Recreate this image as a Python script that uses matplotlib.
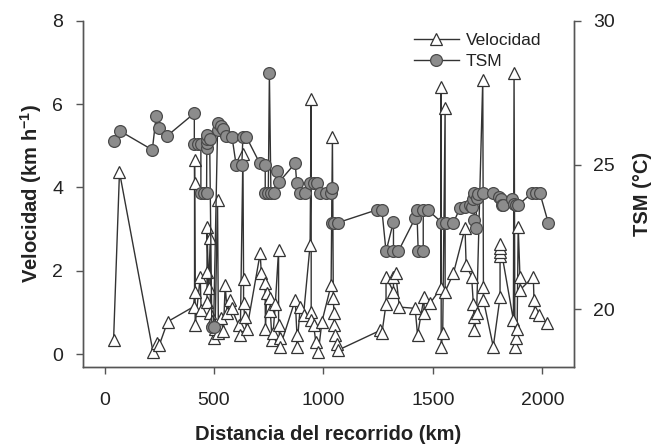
import matplotlib
matplotlib.use("Agg")
import matplotlib.pyplot as plt

plt.rcParams['font.family'] = ['Liberation Sans', 'DejaVu Sans']
plt.rcParams['mathtext.fontset'] = 'custom'
plt.rcParams['mathtext.rm'] = 'Liberation Sans'
plt.rcParams['mathtext.bf'] = 'Liberation Sans:bold'

# Velocidad (km/h) a lo largo del recorrido (km)
vel_km = [41, 68, 221, 239, 250, 288, 407, 411, 411, 411, 414, 437, 441, 468, 468, 468,
          475, 483, 483, 490, 498, 505, 516, 520, 530, 543, 551, 560, 574, 580, 612, 620,
          632, 635, 635, 640, 650, 711, 716, 733, 735, 741, 757, 757, 765, 770, 780, 795,
          795, 800, 802, 871, 879, 879, 894, 909, 939, 944, 944, 944, 955, 965, 977, 993,
          1035, 1041, 1045, 1048, 1050, 1055, 1060, 1068, 1259, 1267, 1286, 1286, 1320, 1320,
          1330, 1347, 1419, 1430, 1460, 1460, 1487, 1536, 1538, 1538, 1545, 1556, 1556, 1594,
          1647, 1652, 1677, 1685, 1688, 1690, 1700, 1728, 1731, 1731, 1776, 1807, 1807, 1807,
          1807, 1807, 1868, 1871, 1875, 1880, 1885, 1890, 1898, 1898, 1959, 1962, 1965, 1987,
          2020]
velocidad = [0.34, 4.37, 0.06, 0.26, 0.22, 0.78, 1.14, 1.5, 4.1, 4.67, 0.7, 1.86, 1.06, 1.26, 1.98, 3.06,
             1.58, 2.78, 1.0, 0.8, 0.38, 0.6, 3.7, 0.5, 0.86, 0.55, 1.66, 1.0, 1.3, 1.1, 0.7, 0.46,
             4.8, 1.8, 1.22, 0.9, 0.6, 2.42, 1.94, 1.7, 0.6, 1.46, 1.34, 1.04, 0.35, 0.5, 1.2, 2.5,
             0.7, 0.4, 0.18, 1.3, 0.46, 0.18, 1.14, 0.94, 2.62, 6.11, 1.02, 0.82, 0.7, 0.3, 0.06, 0.78,
             1.66, 5.22, 1.34, 1.0, 0.7, 0.45, 0.25, 0.1, 0.57, 0.5, 1.2, 1.86, 1.5, 1.86,
             1.95, 1.13, 1.1, 0.46, 1.38, 0.98, 1.22, 1.58, 6.4, 0.18, 0.5, 5.9, 1.5, 1.94,
             3.02, 2.14, 1.86, 1.2, 0.9, 0.58, 1.0, 6.58, 1.6, 1.3, 0.18, 1.37, 2.35, 2.45,
             2.55, 2.65, 0.82, 6.74, 0.18, 0.4, 0.6, 3.06, 1.86, 1.54, 1.86, 1.3, 1.01, 0.94,
             0.74]

# Temperatura superficial del mar (°C)
tsm_km = [42, 69, 218, 236, 247, 285, 410, 410, 425, 440, 440, 455, 466, 467, 467, 467,
          467, 480, 490, 498, 516, 520, 530, 540, 555, 582, 601, 627, 632, 647, 708, 734,
          734, 748, 753, 760, 775, 787, 799, 871, 878, 893, 916, 939, 955, 970, 985, 1010,
          1035, 1041, 1041, 1050, 1068, 1244, 1267, 1286, 1320, 1320, 1342, 1419, 1427, 1433,
          1456, 1456, 1479, 1541, 1560, 1594, 1624, 1647, 1670, 1678, 1682, 1688, 1690, 1697,
          1700, 1707, 1731, 1775, 1800, 1810, 1815, 1819, 1860, 1870, 1878, 1889, 1952, 1970,
          1989, 2027]
tsm = [25.84, 26.18, 25.52, 26.71, 26.27, 26.0, 26.79, 25.73, 25.73, 25.73, 24.02, 24.02, 24.02, 25.58, 25.75, 25.9,
       26.03, 25.9, 19.37, 19.37, 26.2, 26.45, 26.35, 26.25, 26.0, 25.98, 25.0, 25.0, 25.98, 25.98, 25.07, 25.0,
       24.02, 24.02, 28.17, 24.02, 24.02, 24.77, 24.42, 25.06, 24.36, 24.02, 24.02, 24.36, 24.36, 24.36, 24.02, 24.02,
       24.02, 24.2, 23.0, 23.0, 23.0, 23.44, 23.44, 22.0, 23.03, 22.0, 22.0, 23.15, 23.42, 22.0,
       22.0, 23.42, 23.42, 23.0, 23.0, 23.0, 23.5, 23.55, 23.6, 23.55, 23.8, 24.02, 23.1, 22.8,
       23.85, 24.0, 24.02, 24.04, 23.9, 23.8, 23.6, 23.6, 23.8, 23.65, 23.6, 23.6, 24.02, 24.02,
       24.02, 23.0]

fig = plt.figure(figsize=(6.57, 4.46), dpi=100)
ax = fig.add_axes([0.1259, 0.1778, 0.7478, 0.7758])
ax2 = ax.twinx()

l1, = ax.plot(vel_km, velocidad, color='#333333', lw=1.0, marker='^', markersize=8,
              markerfacecolor='white', markeredgecolor='#333333', markeredgewidth=0.9,
              label='Velocidad', zorder=3)
l2, = ax2.plot(tsm_km, tsm, color='#333333', lw=1.0, marker='o', markersize=8.5,
               markerfacecolor='#8c8c8c', markeredgecolor='#4a4a4a', markeredgewidth=0.9,
               label='TSM', zorder=2)

ax.set_xlim(-100, 2145)
ax.set_ylim(-0.3, 8)
ax2.set_ylim(18, 30)
ax.set_xticks([0, 500, 1000, 1500, 2000])
ax.set_yticks([0, 2, 4, 6, 8])
ax2.set_yticks([20, 25, 30])

for a in (ax, ax2):
    a.spines['top'].set_visible(False)
    for s in a.spines.values():
        s.set_color('#555555')
        s.set_linewidth(1.0)
    a.tick_params(direction='out', length=5, width=1, color='#555555',
                  labelsize=14, labelcolor='#222222', pad=9)
ax.tick_params(axis='x', pad=13)

ax.set_xlabel('Distancia del recorrido (km)', fontsize=14.5, fontweight='bold',
              color='#222222', labelpad=12)
ax.set_ylabel(r'Velocidad (km h$^{\mathbf{-1}}$)', fontsize=14.5, fontweight='bold',
              color='#222222', labelpad=6)
ax2.set_ylabel('TSM (°C)', fontsize=14.5, fontweight='bold', color='#222222', labelpad=13)

ax2.legend(handles=[l1, l2], loc='upper left', bbox_to_anchor=(0.642, 1.011),
           frameon=False, fontsize=12.5, handlelength=2.6, handletextpad=0.4,
           labelspacing=0.35, labelcolor='#222222')

fig.savefig('out.png', dpi=100)
